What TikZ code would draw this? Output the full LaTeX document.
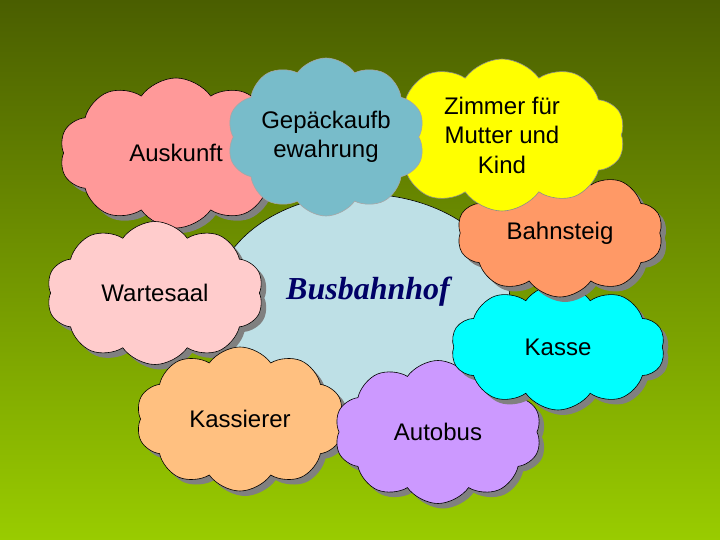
\documentclass[tikz,border=0pt]{standalone}
\usepackage{fontspec}
\setmainfont{Liberation Sans}
\newfontfamily\titlefont{Liberation Serif}
\usetikzlibrary{shapes.symbols,shapes.geometric,shadows}
\definecolor{bgtop}{RGB}{74,94,0}
\definecolor{bgbottom}{RGB}{153,204,0}
\definecolor{hubblue}{RGB}{190,224,230}
\definecolor{hubtext}{RGB}{0,0,102}
\definecolor{gepblue}{RGB}{120,188,202}
\definecolor{kassecyan}{RGB}{0,255,255}
\definecolor{zimmergelb}{RGB}{255,255,0}
\tikzset{
	wolke/.style={cloud, cloud puffs=10, cloud puff arc=110, cloud ignores aspect, draw=black, line width=0.6pt,
		align=center, font=\fontsize{24}{29.5}\selectfont, inner sep=0pt},
	schatten/.style={drop shadow={shadow xshift=5pt, shadow yshift=-5pt, fill=black!50, opacity=1}}
}

\begin{document}
\begin{tikzpicture}[x=1pt, y=-1pt]
			%%%%% START %%%%%
			
			\shade[top color=bgtop, bottom color=bgbottom] (0, 0) rectangle (720, 540);
			\useasboundingbox (0, 0) rectangle (720, 540);
			
			\node[ellipse, draw=black, fill=hubblue, line width=0.6pt, minimum width=296pt, minimum height=216pt] (hub) at (362, 302) {};
			
			\node[wolke, schatten, fill={rgb,255:red,255;green,153;blue,153}, minimum width=233pt, minimum height=150pt] (auskunft) at (176, 153) {Auskunft};
			\node[wolke, schatten, fill={rgb,255:red,255;green,204;blue,204}, minimum width=217pt, minimum height=143pt] (wartesaal) at (155, 293) {Wartesaal};
			\node[wolke, schatten, fill={rgb,255:red,255;green,192;blue,128}, minimum width=208pt, minimum height=144pt] (kassierer) at (240, 419) {Kassierer};
			\node[wolke, schatten, fill={rgb,255:red,204;green,153;blue,255}, minimum width=207pt, minimum height=143pt] (autobus) at (438, 432) {Autobus};
			\node[wolke, schatten, fill=kassecyan, minimum width=214pt, minimum height=126pt] (kasse) at (558, 347) {Kasse};
			\node[wolke, schatten, fill={rgb,255:red,255;green,153;blue,102}, minimum width=206pt, minimum height=128pt] (bahnsteig) at (560, 233) {Bahnsteig};
			
			\node[wolke, draw=black!45, fill=zimmergelb, minimum width=246pt, minimum height=152pt] (zimmer) at (502, 135) {Zimmer für\\Mutter und\\Kind};
			\node[wolke, draw=black!35, fill=gepblue, minimum width=198pt, minimum height=158pt] (gepaeck) at (326, 137) {Gepäckaufb\\ewahrung};
			
			\node[text=hubtext, font=\titlefont\fontsize{32}{36}\selectfont\bfseries\itshape] (titel) at (368, 292) {Busbahnhof};
			
			%%%%% END %%%%%
\end{tikzpicture}
\end{document}
